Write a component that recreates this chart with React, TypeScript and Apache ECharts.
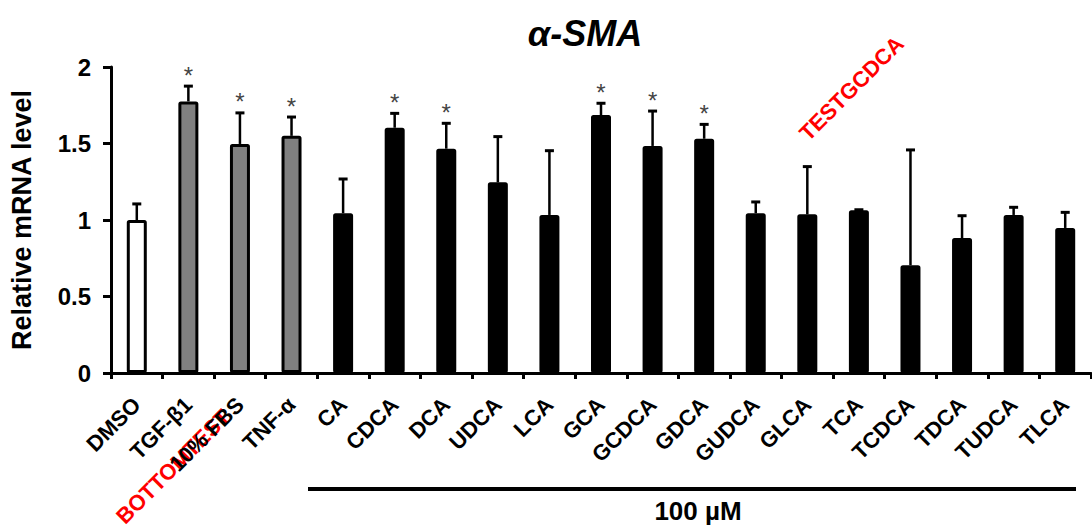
import React, { useEffect, useRef } from "react";
import * as echarts from "echarts";

const categories = ["DMSO", "TGF-β1", "10% FBS", "TNF-α", "CA", "CDCA", "DCA", "UDCA", "LCA", "GCA", "GCDCA", "GDCA", "GUDCA", "GLCA", "TCA", "TCDCA", "TDCA", "TUDCA", "TLCA"];
const means = [1.0, 1.775, 1.497, 1.55, 1.044, 1.603, 1.466, 1.246, 1.033, 1.686, 1.484, 1.531, 1.044, 1.037, 1.063, 0.704, 0.882, 1.033, 0.948];
const sds = [0.105, 0.1, 0.203, 0.123, 0.224, 0.094, 0.166, 0.299, 0.42, 0.077, 0.228, 0.094, 0.074, 0.312, 0.004, 0.754, 0.146, 0.05, 0.102];
const significant = [0, 1, 1, 1, 0, 1, 1, 0, 0, 1, 1, 1, 0, 0, 0, 0, 0, 0, 0];
const groups = ["control", "stimulus", "stimulus", "stimulus", "acid", "acid", "acid", "acid", "acid", "acid", "acid", "acid", "acid", "acid", "acid", "acid", "acid", "acid", "acid"];
const yTicks = [0, 0.5, 1, 1.5, 2];

const groupColors: Record<string, string> = { control: "#ffffff", stimulus: "#808080", acid: "#000000" };
const FONT = "'Liberation Sans'";

export default function App() {
  const ref = useRef<HTMLDivElement>(null);
  useEffect(() => {
    if (!ref.current) return;
    const chart = echarts.init(ref.current, undefined, { renderer: "svg" });
    const option: any = {
      animation: false,
      grid: { left: 110, right: 1, top: 67, bottom: 157, containLabel: false },
      xAxis: {
        type: "category",
        data: categories,
        axisLine: { lineStyle: { color: "#000", width: 3 } },
        axisTick: { show: true, inside: false, length: 6, lineStyle: { color: "#000", width: 3 }, alignWithLabel: false },
        axisLabel: { show: true, rotate: 45, interval: 0, margin: 28, color: "#000", fontWeight: "bold", fontSize: 22 },
      },
      yAxis: {
        type: "value",
        min: 0,
        max: 2,
        interval: 0.5,
        name: "Relative mRNA level",
        nameLocation: "middle",
        nameGap: 76,
        nameTextStyle: { color: "#000", fontFamily: FONT, fontWeight: "bold", fontSize: 27 },
        splitLine: { show: false },
        axisLine: { show: true, lineStyle: { color: "#000", width: 3 } },
        axisTick: { show: true, length: 8, lineStyle: { color: "#000", width: 3 } },
        axisLabel: {
          margin: 20,
          color: "#000",
          fontFamily: FONT,
          fontWeight: "bold",
          fontSize: 24,
          formatter: (v: number) => (yTicks.includes(v) ? String(v) : ""),
        },
      },
      series: [
        {
          type: "bar",
          barWidth: 20,
          data: means.map((m, i) => ({
            value: m,
            itemStyle: { color: groupColors[groups[i]], borderColor: "#000", borderWidth: 3, borderRadius: 1 },
          })),
          z: 2,
        },
        {
          type: "custom",
          z: 3,
          clip: false,
          data: means.map((m, i) => [i, m + sds[i], m, significant[i]]),
          renderItem: (params: any, api: any) => {
            const i = api.value(0);
            const top = api.coord([i, api.value(1)]);
            const base = api.coord([i, api.value(2)]);
            const half = 4.5;
            const children: any[] = [
              { type: "line", shape: { x1: top[0], y1: base[1], x2: top[0], y2: top[1] }, style: { stroke: "#000", lineWidth: 2.5 } },
              { type: "line", shape: { x1: top[0] - half, y1: top[1], x2: top[0] + half, y2: top[1] }, style: { stroke: "#000", lineWidth: 3 } },
            ];
            if (api.value(3)) {
              children.push({
                type: "text",
                x: top[0],
                y: top[1] + 1,
                style: { text: "*", fill: "#444", font: `24px ${FONT}`, textAlign: "center", textVerticalAlign: "bottom" },
              });
            }
            return { type: "group", children };
          },
        },
      ],
      graphic: [
        {
          type: "text",
          x: 585,
          y: 33,
          style: { text: "α-SMA", fill: "#000", font: `italic bold 36px ${FONT}`, textAlign: "center", textVerticalAlign: "middle" },
        },
        {
          type: "line",
          shape: { x1: 308, y1: 489, x2: 1076, y2: 489 },
          style: { stroke: "#000", lineWidth: 4 },
        },
        {
          type: "text",
          x: 698,
          y: 511,
          style: { text: "100 µM", fill: "#000", font: `bold 26px ${FONT}`, textAlign: "center", textVerticalAlign: "middle" },
        },
        { type: "text", x: 900, y: 40, rotation: Math.PI / 4, style: { text: "TESTGCDCA", fill: "red", font: `bold 22px ${FONT}`, textAlign: "right", textVerticalAlign: "middle" } },
        { type: "text", x: 120, y: 520, rotation: Math.PI / 4, style: { text: "BOTTOMTEST", fill: "red", font: `bold 22px ${FONT}`, textAlign: "left", textVerticalAlign: "middle" } },
      ],
    };
    chart.setOption(option);
    return () => chart.dispose();
  }, []);
  return <div ref={ref} style={{ position: "absolute", left: 0, top: 0, width: 1092, height: 530 }} />;
}
